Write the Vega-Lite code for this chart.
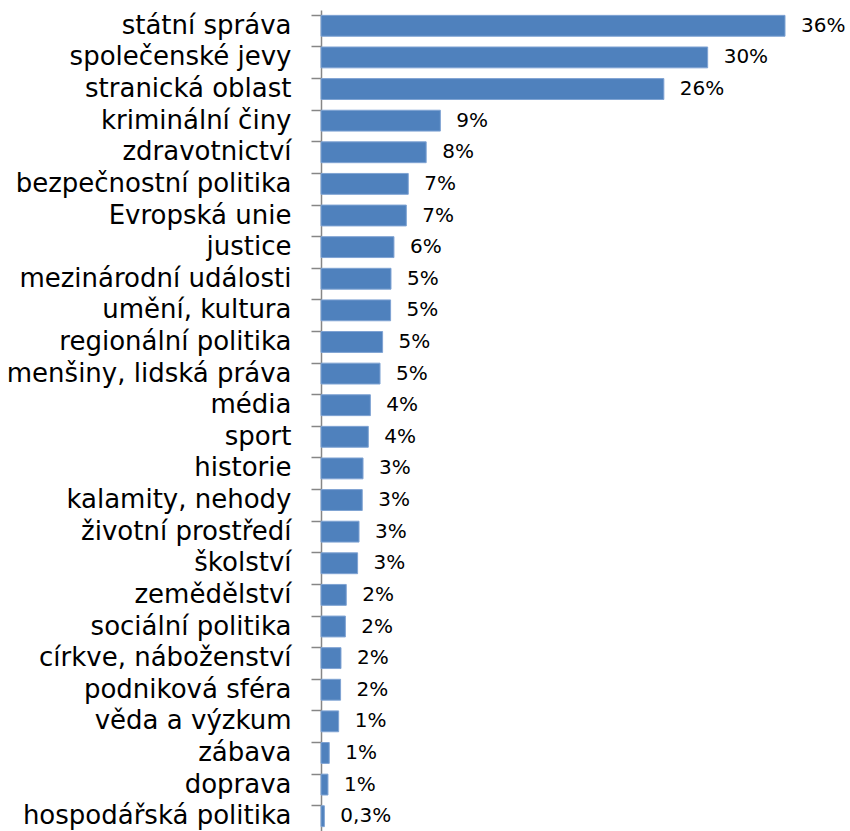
{
  "$schema": "https://vega.github.io/schema/vega-lite/v6.json",
  "width": 464,
  "height": 822,
  "autosize": {"type": "none"},
  "padding": {"left": 321, "top": 10, "right": 65, "bottom": 0},
  "background": "white",
  "config": {"view": {"stroke": null}},
  "data": {
    "values": [
      {"tema": "státní správa", "podil": 36.0, "popisek": "36%"},
      {"tema": "společenské jevy", "podil": 30.0, "popisek": "30%"},
      {"tema": "stranická oblast", "podil": 26.6, "popisek": "26%"},
      {"tema": "kriminální činy", "podil": 9.26, "popisek": "9%"},
      {"tema": "zdravotnictví", "podil": 8.16, "popisek": "8%"},
      {"tema": "bezpečnostní politika", "podil": 6.77, "popisek": "7%"},
      {"tema": "Evropská unie", "podil": 6.62, "popisek": "7%"},
      {"tema": "justice", "podil": 5.66, "popisek": "6%"},
      {"tema": "mezinárodní události", "podil": 5.43, "popisek": "5%"},
      {"tema": "umění, kultura", "podil": 5.40, "popisek": "5%"},
      {"tema": "regionální politika", "podil": 4.78, "popisek": "5%"},
      {"tema": "menšiny, lidská práva", "podil": 4.58, "popisek": "5%"},
      {"tema": "média", "podil": 3.83, "popisek": "4%"},
      {"tema": "sport", "podil": 3.67, "popisek": "4%"},
      {"tema": "historie", "podil": 3.26, "popisek": "3%"},
      {"tema": "kalamity, nehody", "podil": 3.20, "popisek": "3%"},
      {"tema": "životní prostředí", "podil": 2.95, "popisek": "3%"},
      {"tema": "školství", "podil": 2.84, "popisek": "3%"},
      {"tema": "zemědělství", "podil": 1.96, "popisek": "2%"},
      {"tema": "sociální politika", "podil": 1.89, "popisek": "2%"},
      {"tema": "církve, náboženství", "podil": 1.55, "popisek": "2%"},
      {"tema": "podniková sféra", "podil": 1.52, "popisek": "2%"},
      {"tema": "věda a výzkum", "podil": 1.37, "popisek": "1%"},
      {"tema": "zábava", "podil": 0.64, "popisek": "1%"},
      {"tema": "doprava", "podil": 0.54, "popisek": "1%"},
      {"tema": "hospodářská politika", "podil": 0.26, "popisek": "0,3%"}
    ]
  },
  "encoding": {
    "y": {
      "field": "tema",
      "type": "nominal",
      "sort": null,
      "scale": {"paddingInner": 0.34, "paddingOuter": 0.17},
      "axis": {
        "title": null,
        "bandPosition": 0,
        "domainColor": "#868686",
        "domainWidth": 1.5,
        "tickColor": "#868686",
        "tickWidth": 1.5,
        "tickSize": 10,
        "labelPadding": 20,
        "labelFont": "DejaVu Sans",
        "labelFontSize": 26,
        "labelColor": "#000000",
        "labelLimit": 400
      }
    },
    "x": {
      "field": "podil",
      "type": "quantitative",
      "scale": {"domain": [0, 36], "nice": false},
      "axis": null
    }
  },
  "layer": [
    {
      "mark": {"type": "bar", "fill": "#4F81BD", "stroke": "#7FA3D3", "strokeWidth": 1}
    },
    {
      "mark": {"type": "text", "align": "left", "baseline": "middle", "dx": 16, "font": "DejaVu Sans", "fontSize": 20, "color": "#000000"},
      "encoding": {"text": {"field": "popisek"}}
    }
  ]
}
